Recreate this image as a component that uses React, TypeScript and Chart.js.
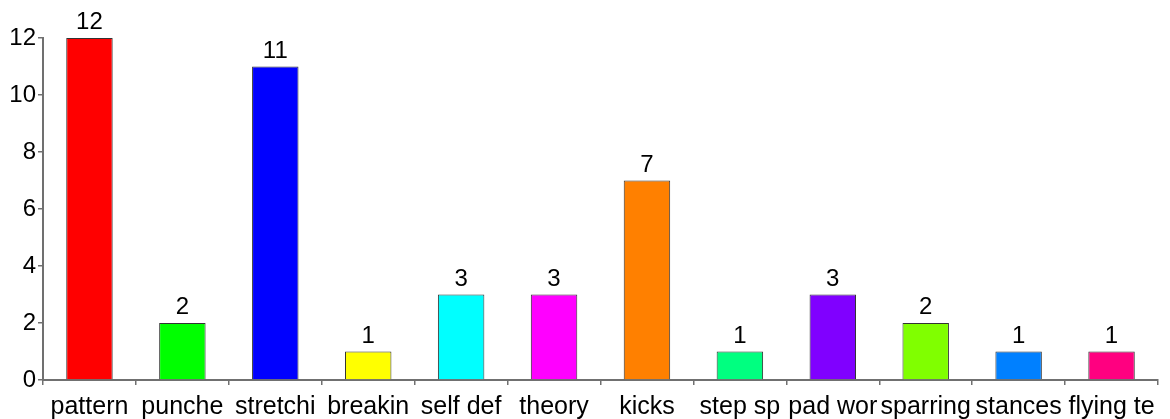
import React, { useEffect, useRef } from "react";
import { Chart, registerables } from "chart.js";

Chart.register(...registerables);

const categories = ["pattern", "punche", "stretchi", "breakin", "self def", "theory", "kicks", "step sp", "pad wor", "sparring", "stances", "flying te"];
const values = [12, 2, 11, 1, 3, 3, 7, 1, 3, 2, 1, 1];
const barColors = ["#ff0000", "#00ff00", "#0000ff", "#ffff00", "#00ffff", "#ff00ff", "#ff8000", "#00ff80", "#8000ff", "#80ff00", "#0080ff", "#ff0080"];
const yTicks = [0, 2, 4, 6, 8, 10, 12];

const FONT = "'Liberation Sans', Arial, sans-serif";

const valueLabels = {
  id: "valueLabels",
  afterDatasetsDraw(chart: any) {
    const ctx = chart.ctx;
    const meta = chart.getDatasetMeta(0);
    ctx.save();
    ctx.font = `24px ${FONT}`;
    ctx.fillStyle = "#000";
    ctx.textAlign = "center";
    ctx.textBaseline = "alphabetic";
    meta.data.forEach((bar: any, i: number) => {
      ctx.fillText(String(values[i]), bar.x, bar.y - 9);
    });
    ctx.restore();
  },
};

export default function App() {
  const ref = useRef<HTMLCanvasElement>(null);
  useEffect(() => {
    document.body.style.margin = "0";
    const chart = new Chart(ref.current!, {
      type: "bar",
      data: {
        labels: categories,
        datasets: [
          {
            data: values,
            backgroundColor: barColors,
            borderColor: "#333",
            borderWidth: 1,
            categoryPercentage: 1,
            barPercentage: 0.5,
          },
        ],
      },
      options: {
        animation: false,
        responsive: false,
        layout: { padding: { top: 38, right: 12, left: 0, bottom: 0 } },
        plugins: { legend: { display: false }, tooltip: { enabled: false } },
        scales: {
          x: {
            offset: true,
            grid: { display: true, drawOnChartArea: false, offset: true, tickLength: 5, color: "#707070", lineWidth: 1.5 },
            border: { display: true, color: "#707070", width: 2 },
            ticks: { color: "#000", font: { family: FONT, size: 25 }, padding: 7, maxRotation: 0, autoSkip: false },
            afterFit: (s: any) => { s.height = 39; },
          },
          y: {
            min: 0,
            max: 12,
            grid: { display: true, drawOnChartArea: false, tickLength: 5, color: "#707070", lineWidth: 1.5 },
            border: { display: true, color: "#707070", width: 2 },
            ticks: { color: "#000", font: { family: FONT, size: 24 }, padding: 2, stepSize: 2 },
            afterBuildTicks: (s: any) => { s.ticks = yTicks.map((v) => ({ value: v })); },
            afterFit: (s: any) => { s.width = 43; },
          },
        },
      },
      plugins: [valueLabels],
    });
    return () => chart.destroy();
  }, []);
  return (
    <div style={{ width: 1170, height: 419 }}>
      <canvas ref={ref} width={1170} height={419} style={{ display: "block" }} />
    </div>
  );
}
